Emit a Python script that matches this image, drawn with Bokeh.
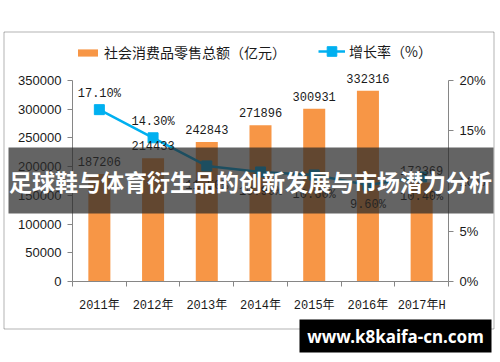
from bokeh.plotting import figure
from bokeh.models import (Range1d, LinearAxis, FixedTicker, PrintfTickFormatter,
                          NumeralTickFormatter, ColumnDataSource, Legend, LegendItem,
                          BoxAnnotation, Label)
from bokeh.core.properties import value
from bokeh.embed import file_html
from bokeh.resources import INLINE

# ---- data ----
years = ["2011年", "2012年", "2013年", "2014年", "2015年", "2016年", "2017年H"]
sales = [187206, 214433, 242843, 271896, 300931, 332316, 172369]
growth = [17.1, 14.3, 11.5, 10.9, 10.6, 9.6, 10.4]
left_ticks = [0, 50000, 100000, 150000, 200000, 250000, 300000, 350000]
right_ticks = [0, 5, 10, 15, 20]
legend_sales = "社会消费品零售总额（亿元）"
legend_growth = "增长率（%）"
title_text = "足球鞋与体育衍生品的创新发展与市场潜力分析"
site_text = "www.k8kaifa-cn.com"

# ---- styles ----
ORANGE = "#F79646"
BLUE = "#00B0F0"
AXIS = "#868686"
TXT = "#1a1a1a"
CJK = "Noto Sans CJK SC"
MONO = "Liberation Mono"

W, H = 500, 362
# pixel box of the plotting area inside the canvas
ax_left, ax_right, ax_top, ax_bottom = 72, 448, 80, 281

n = len(years)
xs = [i + 0.5 for i in range(n)]

# the frame covers the whole canvas; ranges are widened so the axes sit at the box
ppx = (ax_right - ax_left) / n
x_range = Range1d(-ax_left / ppx, n + (W - ax_right) / ppx)


def widened(lo, hi):
    ppv = (ax_bottom - ax_top) / (hi - lo)
    return Range1d(lo - (H - ax_bottom) / ppv, hi + ax_top / ppv)


p = figure(width=W, height=H, output_backend="svg", toolbar_location=None,
           x_range=x_range, y_range=widened(left_ticks[0], left_ticks[-1]),
           min_border=0, min_border_left=0, min_border_right=0,
           min_border_top=0, min_border_bottom=0,
           background_fill_color="white", border_fill_color="white",
           outline_line_color=None)
p.extra_y_ranges = {"pct": widened(right_ticks[0], right_ticks[-1])}
p.grid.visible = False

# x axis: labels at category centres, ticks at category boundaries
xa = p.xaxis[0]
xa.fixed_location = left_ticks[0]
xa.bounds = (0, n)
xa.ticker = FixedTicker(ticks=xs, minor_ticks=list(range(n + 1)))
xa.major_label_overrides = {x: y for x, y in zip(xs, years)}
xa.major_tick_line_color = None
xa.major_tick_in = 0
xa.major_tick_out = 0
xa.minor_tick_line_color = AXIS
xa.minor_tick_in = 0
xa.minor_tick_out = 5
xa.axis_line_color = AXIS
xa.major_label_standoff = 12
xa.major_label_text_font = MONO + ", " + CJK
xa.major_label_text_font_size = "12px"
xa.major_label_text_color = TXT

# left axis
ya = p.yaxis[0]
ya.fixed_location = 0
ya.ticker = FixedTicker(ticks=left_ticks)
ya.formatter = NumeralTickFormatter(format="0")
ya.bounds = (left_ticks[0], left_ticks[-1])
ya.major_tick_in = 0
ya.major_tick_out = 5
ya.major_tick_line_color = AXIS
ya.minor_tick_line_color = None
ya.axis_line_color = AXIS
ya.major_label_standoff = 6
ya.major_label_text_font = "Liberation Sans"
ya.major_label_text_font_size = "13px"
ya.major_label_text_color = TXT

# right axis
ra = LinearAxis(y_range_name="pct", fixed_location=n,
                ticker=FixedTicker(ticks=right_ticks),
                formatter=PrintfTickFormatter(format="%d%%"),
                bounds=(right_ticks[0], right_ticks[-1]),
                major_tick_in=0, major_tick_out=5, major_tick_line_color=AXIS,
                minor_tick_line_color=None, axis_line_color=AXIS,
                major_label_standoff=6, major_label_text_font="Liberation Sans",
                major_label_text_font_size="13px", major_label_text_color=TXT)
p.add_layout(ra, "right")

src = ColumnDataSource(dict(
    x=xs, sales=sales, growth=growth,
    sales_lbl=[str(v) for v in sales],
))

bars = p.vbar(x="x", top="sales", bottom=0, width=0.41, source=src,
              fill_color=ORANGE, line_color=None)
line = p.line("x", "growth", y_range_name="pct", source=src,
              line_color=BLUE, line_width=2.5)
pts = p.scatter("x", "growth", y_range_name="pct", source=src, marker="square",
                size=10, fill_color=BLUE, line_color=BLUE)

p.text("x", "sales", text="sales_lbl", source=src, text_align="center",
       text_baseline="bottom", y_offset=-8, text_font=value(MONO),
       text_font_size="12px", text_color=TXT)

above = ColumnDataSource(dict(x=xs[:2], growth=growth[:2],
                              lbl=[f"{g:.2f}%" for g in growth[:2]]))
below = ColumnDataSource(dict(x=xs[2:], growth=growth[2:],
                              lbl=[f"{g:.2f}%" for g in growth[2:]]))
p.text("x", "growth", text="lbl", source=above, y_range_name="pct",
       text_align="center", text_baseline="bottom", y_offset=-9,
       text_font=value(MONO), text_font_size="12px", text_color=TXT)
p.text("x", "growth", text="lbl", source=below, y_range_name="pct",
       text_align="center", text_baseline="top", y_offset=13,
       text_font=value(MONO), text_font_size="12px", text_color=TXT)

legend_style = dict(orientation="horizontal", padding=0, margin=0, spacing=0,
                    label_standoff=4, label_text_font=CJK,
                    label_text_font_size="14px", label_text_color=TXT,
                    border_line_color=None, background_fill_alpha=0)
# legend location is the bottom-left corner measured from the canvas bottom
p.add_layout(Legend(items=[LegendItem(label=value(legend_sales), renderers=[bars])],
                    location=(75, H - 62), glyph_width=25, glyph_height=9,
                    label_height=9, **legend_style))
p.add_layout(Legend(items=[LegendItem(label=value(legend_growth),
                                      renderers=[line, pts])],
                    location=(318, H - 63), glyph_width=27, glyph_height=24,
                    label_height=24, **legend_style))


def canvas_box(left, top, right, bottom, **kw):
    p.add_layout(BoxAnnotation(left=left, right=right, top=top, bottom=bottom,
                               left_units="canvas", right_units="canvas",
                               top_units="canvas", bottom_units="canvas", **kw))


def canvas_label(x, y, text, **kw):
    p.add_layout(Label(x=x, y=y, x_units="canvas", y_units="canvas", text=text,
                       text_align="center", text_baseline="middle", **kw))


# outer chart border
canvas_box(3.5, 31.5, 493.5, 328.5, fill_alpha=0, line_color="#000000", line_width=1)

# title banner
canvas_box(8, 147, 493, 213, fill_color="#282828", fill_alpha=0.72, line_color=None)
canvas_label(250, 180, title_text, text_color="white", text_font=CJK,
             text_font_style="bold", text_font_size="23px")

# site banner
canvas_box(299, 319, 491, 352, fill_color="#000000", fill_alpha=1, line_color=None)
canvas_label(395, 336, site_text, text_color="white", text_font="Noto Sans",
             text_font_style="bold", text_font_size="17px")

open("out.html", "w").write(file_html(p, INLINE))
